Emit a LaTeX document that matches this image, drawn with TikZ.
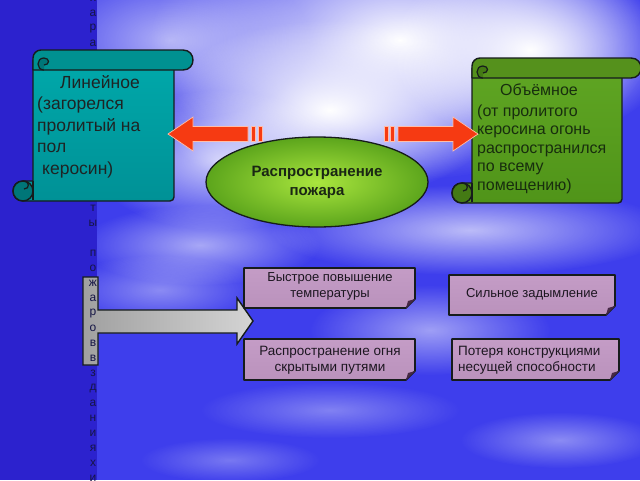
\documentclass[tikz,border=0pt]{standalone}
\usepackage{fontspec}
\setmainfont{Liberation Sans}
\usetikzlibrary{fadings,shapes.geometric}
\definecolor{bgblue}{RGB}{62,62,236}
\definecolor{stripblue}{RGB}{44,34,206}
\definecolor{outline}{RGB}{22,28,28}
\definecolor{tealtop}{RGB}{0,168,170}
\definecolor{tealmid}{RGB}{10,236,238}
\definecolor{tealbot}{RGB}{0,145,150}
\definecolor{tealroll}{RGB}{0,145,145}
\definecolor{tealcurl}{RGB}{0,118,120}
\definecolor{greentop}{RGB}{95,165,35}
\definecolor{greenmid}{RGB}{150,232,50}
\definecolor{greenbot}{RGB}{80,148,25}
\definecolor{greenroll}{RGB}{85,145,28}
\definecolor{greencurl}{RGB}{68,122,20}
\definecolor{ellin}{RGB}{170,230,62}
\definecolor{ellout}{RGB}{92,165,28}
\definecolor{boxtop}{RGB}{196,156,198}
\definecolor{boxmid}{RGB}{246,226,246}
\definecolor{boxbot}{RGB}{186,146,188}
\definecolor{boxfold}{RGB}{70,40,70}
\definecolor{arrowred}{RGB}{246,58,18}
\definecolor{arrowedge}{RGB}{255,190,170}
\definecolor{graylight}{RGB}{212,212,212}
\definecolor{graydark}{RGB}{160,160,160}
\definecolor{letterblue}{RGB}{22,22,70}
\definecolor{scrolltext}{RGB}{30,36,36}
\definecolor{greentext}{RGB}{24,46,14}
\definecolor{boxtext}{RGB}{28,22,32}
\definecolor{elltext}{RGB}{26,38,20}
\tikzfading[name=cloudfade, inner color=transparent!0, outer color=transparent!100]

\newcommand\drawscroll[9]{%
  \path[top color=#5, middle color=#6, bottom color=#7, draw=outline, line width=1.4pt, line join=round]
    ({#1},{#4-20}) -- ({#1},{#3+10}) -- ({#2},{#3+10}) -- ({#2},{#4-4})
    .. controls ({#2},{#4-1.8}) and ({#2-1.8},{#4}) .. ({#2-4},{#4})
    -- ({#1-10},{#4}) .. controls ({#1-23.3},{#4}) and ({#1-23.3},{#4-20}) .. ({#1-10},{#4-20}) -- cycle;
  \path[fill=#8, draw=outline, line width=1.4pt, line join=round]
    ({#1},{#3+20}) -- ({#1},{#3+8}) .. controls ({#1},{#3+3.6}) and ({#1+3.6},{#3}) .. ({#1+8},{#3})
    -- ({#2+9},{#3}) .. controls ({#2+22.3},{#3}) and ({#2+22.3},{#3+20}) .. ({#2+9},{#3+20}) -- cycle;
  \draw[fill=#9, draw=outline, line width=1.2pt]
    ({#1+11},{#3+20}) .. controls ({#1+3},{#3+20}) and ({#1+3},{#3+8}) .. ({#1+11},{#3+8})
    .. controls ({#1+17},{#3+8}) and ({#1+17},{#3+15}) .. ({#1+11},{#3+15});
  \draw[fill=#9, draw=outline, line width=1.4pt] ({#1-10},{#4-10}) circle[radius=10];
  \draw[outline, line width=1.2pt] ({#1-10},{#4-20}) .. controls ({#1-3},{#4-20}) and ({#1-3},{#4-12}) .. ({#1-9},{#4-12});
  \draw[outline, line width=1.4pt] ({#1},{#4-20}) -- ({#1},{#4-1});
}
\newcommand\foldbox[4]{%
  \path[top color=boxtop, middle color=boxmid, bottom color=boxbot, draw=outline, line width=1.6pt, line join=round]
    ({#1},{#2}) -- ({#3},{#2}) -- ({#3},{#4-9}) -- ({#3-9},{#4}) -- ({#1},{#4}) -- cycle;
  \fill[boxfold] ({#3-9},{#4}) -- ({#3},{#4-9}) -- ({#3-7},{#4-7}) -- cycle;
}

\begin{document}
\begin{tikzpicture}[x=1pt,y=-1pt,
  colletter/.style={font=\fontsize{12}{12}\selectfont, text=letterblue, inner sep=0pt},
  lefttext/.style={font=\fontsize{17.5}{21}\selectfont, text=scrolltext, anchor=base west, inner sep=0pt},
  righttext/.style={font=\fontsize{16}{19}\selectfont, text=greentext, anchor=base west, inner sep=0pt},
  boxlabel/.style={font=\fontsize{13}{16}\selectfont, text=boxtext, align=center, inner sep=0pt},
  boxlabelw/.style={font=\fontsize{13.5}{16}\selectfont, text=boxtext, align=center, inner sep=0pt},
  cloud/.style={fill=white, path fading=cloudfade},
  redarrow/.style={fill=arrowred, draw=arrowedge, line width=0.7pt},
]
\useasboundingbox (0,0) rectangle (640,480);
% background
\fill[bgblue] (0,0) rectangle (640,480);
\fill[cloud, fill opacity=0.6] (170,40) ellipse [x radius=140, y radius=80];
\fill[cloud] (400,40) ellipse [x radius=250, y radius=140];
\fill[cloud] (330,110) ellipse [x radius=170, y radius=90];
\fill[cloud] (530,50) ellipse [x radius=140, y radius=90];
\fill[cloud, fill opacity=0.75] (220,160) ellipse [x radius=130, y radius=70];
\fill[cloud, fill opacity=0.65] (470,230) ellipse [x radius=200, y radius=45];
\fill[cloud, fill opacity=0.55] (200,245) ellipse [x radius=120, y radius=40];
\fill[cloud, fill opacity=0.4] (160,290) ellipse [x radius=100, y radius=35];
\fill[cloud, fill opacity=0.5] (430,330) ellipse [x radius=120, y radius=45];
\fill[cloud, fill opacity=0.35] (330,410) ellipse [x radius=130, y radius=28];
\fill[cloud, fill opacity=0.4] (560,440) ellipse [x radius=100, y radius=28];
\fill[cloud, fill opacity=0.3] (230,460) ellipse [x radius=90, y radius=22];
\fill[stripblue] (0,0) rectangle (97,480);
% gray arrow with box
\path[left color=graydark, right color=graylight, draw=outline, line width=1.4pt, line join=miter]
  (83,277) -- (98,277) -- (98,310) -- (237,310) -- (237,298) -- (253,321) -- (237,344)
  -- (237,333) -- (98,333) -- (98,365) -- (83,365) -- cycle;
% vertical letters
\foreach \i/\c in {0/х,1/а,2/р,3/а,14/т,15/ы,17/п,18/о,19/ж,20/а,21/р,22/о,23/в,24/в,25/з,26/д,27/а,28/н,29/и,30/я,31/х,32/и}
  \node[colletter] (col\i) at (93,{15*\i-1.5}) {\c};
% scrolls
\drawscroll{33}{174}{50}{201}{tealtop}{tealmid}{tealbot}{tealroll}{tealcurl}
\drawscroll{472}{622}{58}{203}{greentop}{greenmid}{greenbot}{greenroll}{greencurl}
\node[lefttext] (lt1) at (60,88) {Линейное};
\node[lefttext] (lt2) at (37,109.5) {(загорелся};
\node[lefttext] (lt3) at (37,131) {пролитый на};
\node[lefttext] (lt4) at (37,152.5) {пол};
\node[lefttext] (lt5) at (42,174) {керосин)};
\node[righttext] (rt1) at (500,95) {Объёмное};
\node[righttext] (rt2) at (477,116) {(от пролитого};
\node[righttext] (rt3) at (477,134.5) {керосина огонь};
\node[righttext] (rt4) at (477,153) {распространился};
\node[righttext] (rt5) at (477,171.5) {по всему};
\node[righttext] (rt6) at (477,190.5) {помещению)};
% red arrows
\path[redarrow] (168,134) -- (193,117) -- (193,126.5) -- (248,126.5) -- (248,141.5) -- (193,141.5) -- (193,151) -- cycle;
\path[redarrow] (251.5,126.5) rectangle (255.5,141.5);
\path[redarrow] (258,126.5) rectangle (262,141.5);
\path[redarrow] (478,134) -- (453,117) -- (453,126.5) -- (398,126.5) -- (398,141.5) -- (453,141.5) -- (453,151) -- cycle;
\path[redarrow] (390.5,126.5) rectangle (394.5,141.5);
\path[redarrow] (384,126.5) rectangle (388,141.5);
% ellipse
\node[ellipse, minimum width=222pt, minimum height=90pt, inner color=ellin, outer color=ellout,
  draw=outline, line width=1.3pt, font=\bfseries\fontsize{15}{19}\selectfont, text=elltext, align=center]
  (spread) at (317,182) {Распространение\\пожара};
% boxes
\foldbox{244}{268}{415}{308}
\foldbox{449}{275}{615}{315}
\foldbox{244}{339}{415}{380}
\foldbox{452}{339}{619}{380}
\node[boxlabel] (b1) at (330,286) {Быстрое повышение\\температуры};
\node[boxlabel] (b2) at (532,294) {Сильное задымление};
\node[boxlabelw] (b3) at (330,360) {Распространение огня\\скрытыми путями};
\node[boxlabelw, align=left, anchor=west] (b4) at (458,360) {Потеря конструкциями\\несущей способности};
\end{tikzpicture}
\end{document}
